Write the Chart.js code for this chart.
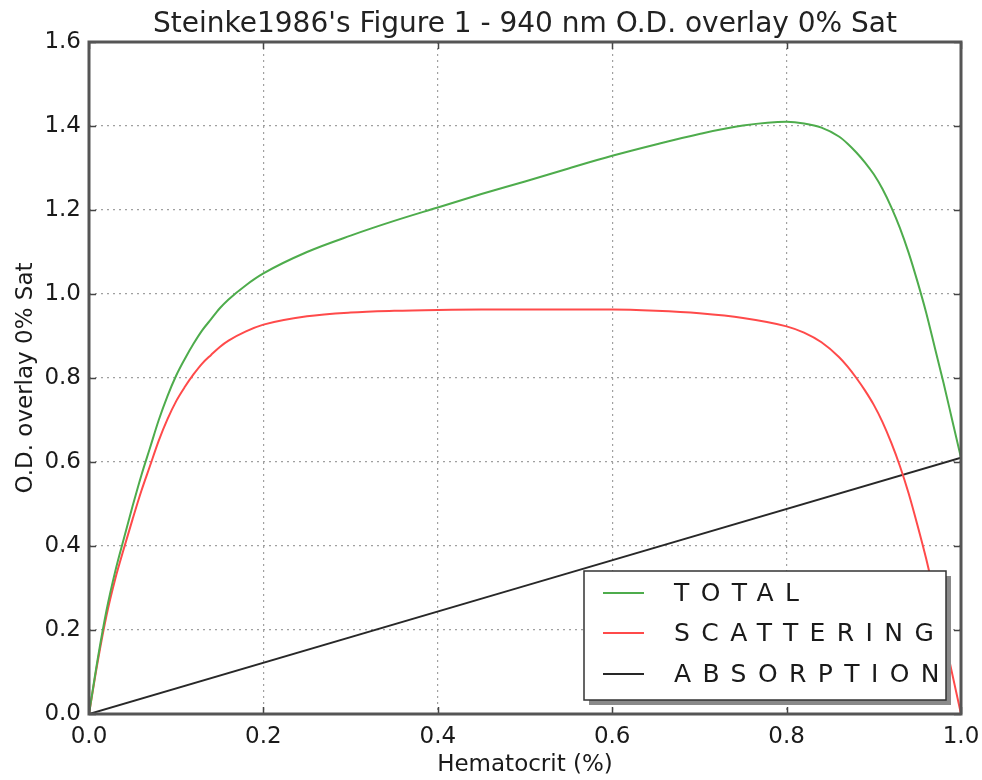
<!DOCTYPE html>
<html>
<head>
<meta charset="utf-8">
<script src="https://cdn.jsdelivr.net/npm/chart.js@4/dist/chart.umd.min.js"></script>
<style>
  html, body { margin: 0; padding: 0; background: #fff; }
  #wrap { width: 982px; height: 780px; }
</style>
</head>
<body>
<div id="wrap"><canvas id="c" width="982" height="780"></canvas></div>
<script>
// Hematocrit fraction sampled along the curves
const hematocrit = [0, 0.01, 0.02, 0.03, 0.04, 0.05, 0.06, 0.07, 0.08, 0.09, 0.10, 0.11, 0.12, 0.13, 0.14, 0.15, 0.16,
  0.18, 0.20, 0.25, 0.30, 0.35, 0.40, 0.45, 0.50, 0.55, 0.60, 0.65, 0.70, 0.75, 0.80, 0.82, 0.84, 0.86, 0.87, 0.88,
  0.89, 0.90, 0.91, 0.92, 0.93, 0.94, 0.95, 0.96, 0.97, 0.98, 0.99, 1.00];

// Total optical density (940 nm, 0% saturation)
const totalOD = [0, 0.131, 0.246, 0.339, 0.418, 0.495, 0.568, 0.634, 0.700, 0.757, 0.806, 0.846, 0.882, 0.914, 0.940,
  0.966, 0.987, 1.021, 1.049, 1.100, 1.139, 1.174, 1.206, 1.238, 1.268, 1.299, 1.329, 1.356, 1.381, 1.401, 1.410,
  1.406, 1.396, 1.375, 1.358, 1.337, 1.313, 1.285, 1.250, 1.207, 1.157, 1.098, 1.030, 0.956, 0.872, 0.788, 0.699, 0.61];

// Scattering component
const scatteringOD = [0, 0.125, 0.234, 0.321, 0.394, 0.464, 0.531, 0.591, 0.651, 0.702, 0.745, 0.779, 0.809, 0.835,
  0.855, 0.874, 0.889, 0.911, 0.927, 0.947, 0.956, 0.960, 0.962, 0.963, 0.963, 0.963, 0.963, 0.960, 0.954, 0.943, 0.923,
  0.908, 0.885, 0.850, 0.827, 0.800, 0.770, 0.736, 0.695, 0.646, 0.590, 0.525, 0.450, 0.370, 0.280, 0.190, 0.095, 0];

// Absorption component (linear in hematocrit)
const absorptionX = [0, 1];
const absorptionOD = [0, 0.61];

const xTicks = [0.0, 0.2, 0.4, 0.6, 0.8, 1.0];
const yTicks = [0.0, 0.2, 0.4, 0.6, 0.8, 1.0, 1.2, 1.4, 1.6];
const seriesLabels = ['TOTAL', 'SCATTERING', 'ABSORPTION'];
const seriesColors = ['rgb(78,172,76)', 'rgb(255,74,74)', 'rgb(40,40,40)'];

const FONT = '"DejaVu Sans", sans-serif';

function pts(xs, ys) { return xs.map((x, i) => ({ x: x, y: ys[i] })); }

// Axes frame with inward ticks on all four sides
const framePlugin = {
  id: 'frame',
  afterDraw(chart) {
    const { ctx, chartArea: a, scales } = chart;
    ctx.save();
    ctx.strokeStyle = '#444';
    ctx.lineWidth = 1.5;
    const len = 7;
    ctx.beginPath();
    xTicks.forEach(v => {
      const px = Math.round(scales.x.getPixelForValue(v)) + 0.5;
      ctx.moveTo(px, a.bottom); ctx.lineTo(px, a.bottom - len);
      ctx.moveTo(px, a.top); ctx.lineTo(px, a.top + len);
    });
    yTicks.forEach(v => {
      const py = Math.round(scales.y.getPixelForValue(v)) + 0.5;
      ctx.moveTo(a.left, py); ctx.lineTo(a.left + len, py);
      ctx.moveTo(a.right, py); ctx.lineTo(a.right - len, py);
    });
    ctx.stroke();
    ctx.lineWidth = 3;
    ctx.strokeStyle = '#555';
    ctx.strokeRect(a.left, a.top, a.right - a.left, a.bottom - a.top);
    ctx.restore();
  }
};

// Title above the axes
const titlePlugin = {
  id: 'topTitle',
  afterDraw(chart) {
    const { ctx, chartArea: a } = chart;
    ctx.save();
    ctx.fillStyle = '#222';
    ctx.font = '28px ' + FONT;
    ctx.textAlign = 'center';
    ctx.textBaseline = 'alphabetic';
    ctx.fillText("Steinke1986's Figure 1 - 940 nm O.D. overlay 0% Sat", (a.left + a.right) / 2, 32);
    ctx.restore();
  }
};

// Framed legend with drop shadow in the lower right corner
const legendPlugin = {
  id: 'boxLegend',
  afterDraw(chart) {
    const { ctx } = chart;
    const bx = 584, by = 571, bw = 362, bh = 129;
    ctx.save();
    ctx.fillStyle = '#8a8a8a';
    ctx.fillRect(bx + 5, by + 5, bw, bh);
    ctx.fillStyle = '#fff';
    ctx.fillRect(bx, by, bw, bh);
    ctx.strokeStyle = '#333';
    ctx.lineWidth = 1.5;
    ctx.strokeRect(bx, by, bw, bh);
    const rows = [593, 633, 674];
    chart.data.datasets.forEach((ds, i) => {
      ctx.strokeStyle = ds.borderColor;
      ctx.lineWidth = 2.2;
      ctx.beginPath();
      ctx.moveTo(603, rows[i]); ctx.lineTo(644, rows[i]);
      ctx.stroke();
      ctx.fillStyle = '#1a1a1a';
      ctx.font = '25px ' + FONT;
      ctx.letterSpacing = '11.4px';
      ctx.textAlign = 'left';
      ctx.textBaseline = 'middle';
      ctx.fillText(ds.label, 674, rows[i] + 1);
    });
    ctx.restore();
  }
};

new Chart(document.getElementById('c'), {
  type: 'scatter',
  data: {
    datasets: [
      { label: seriesLabels[0], data: pts(hematocrit, totalOD), borderColor: seriesColors[0] },
      { label: seriesLabels[1], data: pts(hematocrit, scatteringOD), borderColor: seriesColors[1] },
      { label: seriesLabels[2], data: pts(absorptionX, absorptionOD), borderColor: seriesColors[2] }
    ].map(d => Object.assign(d, {
      showLine: true, pointRadius: 0, borderWidth: 2, fill: false,
      cubicInterpolationMode: 'monotone'
    }))
  },
  options: {
    responsive: false,
    animation: false,
    devicePixelRatio: 1,
    layout: { padding: { top: 42, right: 21, left: 0, bottom: 0 } },
    plugins: { legend: { display: false }, tooltip: { enabled: false }, title: { display: false } },
    scales: {
      x: {
        type: 'linear', min: 0, max: 1,
        afterBuildTicks: s => { s.ticks = xTicks.map(v => ({ value: v })); },
        afterFit: s => { s.height = 66; s.paddingLeft = 0; s.paddingRight = 0; },
        ticks: { callback: v => Number(v).toFixed(1), font: { family: FONT, size: 23 }, color: '#1a1a1a', padding: 9, maxRotation: 0 },
        grid: { color: '#a0a0a0', lineWidth: 1.2, drawTicks: false },
        border: { display: false, dash: [2, 4] },
        title: { display: true, text: 'Hematocrit (%)', font: { family: FONT, size: 23 }, color: '#1a1a1a', padding: { top: 0, bottom: 1 } }
      },
      y: {
        type: 'linear', min: 0, max: 1.6,
        afterBuildTicks: s => { s.ticks = yTicks.map(v => ({ value: v })); },
        afterFit: s => { s.width = 89; s.paddingTop = 0; s.paddingBottom = 0; },
        ticks: { callback: v => Number(v).toFixed(1), font: { family: FONT, size: 23 }, color: '#1a1a1a', padding: 8 },
        grid: { color: '#a0a0a0', lineWidth: 1.2, drawTicks: false },
        border: { display: false, dash: [2, 4] },
        title: { display: true, text: 'O.D. overlay 0% Sat', font: { family: FONT, size: 23 }, color: '#1a1a1a', padding: { top: 12, bottom: 0 } }
      }
    }
  },
  plugins: [framePlugin, titlePlugin, legendPlugin]
});
</script>
</body>
</html>
